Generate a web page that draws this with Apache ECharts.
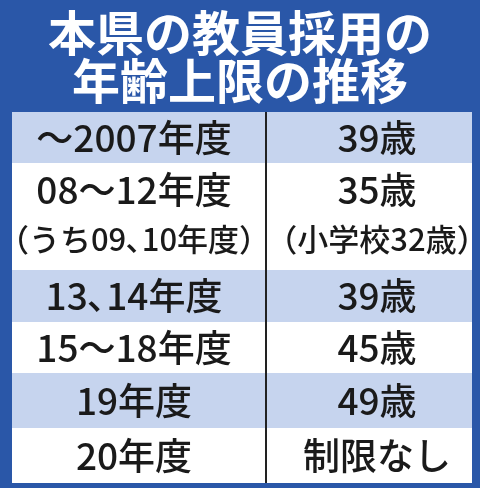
<!DOCTYPE html>
<html><head><meta charset="utf-8">
<script src="https://cdn.jsdelivr.net/npm/echarts@6.0.0/dist/echarts.min.js"></script>
<style>html,body{margin:0;padding:0;background:#2a57a8}#c{width:480px;height:488px}</style>
</head><body><div id="c"></div>
<script>
const titleLines = ['本県の教員採用の', '年齢上限の推移']
const periods = ['～2007年度', '08～12年度', '（うち09､10年度）', '13､14年度', '15～18年度', '19年度', '20年度']
const limits = ['39歳', '35歳', '（小学校32歳）', '39歳', '45歳', '49歳', '制限なし']
// row top edges of each text line, and which lines are shaded
const lineTops = [112, 163, 216, 270, 322, 373, 428, 483]
const shaded = [true, false, false, true, false, true, false]

const chart = echarts.init(document.getElementById('c'))
const font = '"Noto Sans CJK JP", sans-serif'
const els = []

// table backdrop
els.push({ type: 'rect', shape: { x: 12, y: 112, width: 460, height: 371 }, style: { fill: '#ffffff' } })
periods.forEach((p, i) => {
  const y0 = lineTops[i], y1 = lineTops[i + 1]
  if (shaded[i]) els.push({ type: 'rect', shape: { x: 12, y: y0, width: 460, height: y1 - y0 }, style: { fill: '#c6d4ee' } })
  const small = p.startsWith('（')
  const cy = (y0 + y1) / 2 + (small ? -4 : 0)
  const fs = small ? 31 : 37
  els.push({ type: 'text', x: 134, y: cy, style: { text: p, font: `500 ${fs}px ${font}`, fill: '#1a1a1a', align: 'center', verticalAlign: 'middle' } })
  els.push({ type: 'text', x: 377, y: cy, style: { text: limits[i], font: `500 ${fs}px ${font}`, fill: '#1a1a1a', align: 'center', verticalAlign: 'middle' } })
})
els.push({ type: 'line', shape: { x1: 266, y1: 112, x2: 266, y2: 483 }, style: { stroke: '#222', lineWidth: 2 } })

titleLines.forEach((t, i) => {
  els.push({ type: 'text', x: 240, y: 33 + i * 48, style: { text: t, font: `bold 48px ${font}`, fill: '#ffffff', align: 'center', verticalAlign: 'middle' } })
})

chart.setOption({ backgroundColor: '#2a57a8', graphic: { elements: els } })
</script></body></html>
